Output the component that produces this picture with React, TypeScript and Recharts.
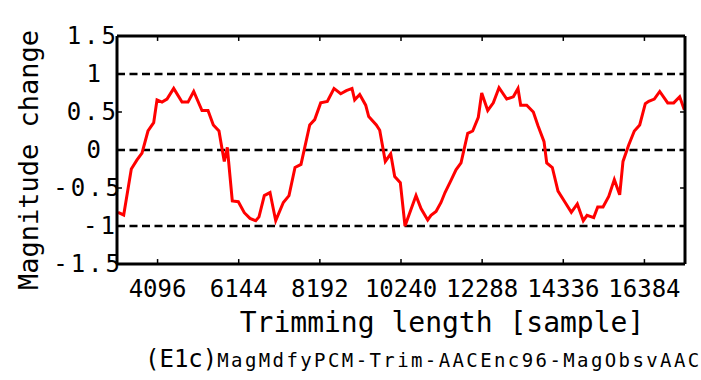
import { LineChart, Line, XAxis, YAxis, ReferenceLine, Label } from 'recharts';

const trimLength = [
  3097, 3241, 3433, 3577, 3703, 3854, 3998, 4082, 4208, 4334, 4503, 4713, 4864, 5008, 5217, 5369,
  5503, 5646, 5715, 5780, 5856, 5982, 6134, 6285, 6429, 6573, 6656, 6790, 6934, 7078, 7270, 7413,
  7565, 7716, 7936, 8062, 8213, 8380, 8549, 8718, 8860, 9003, 9071, 9198, 9349, 9425, 9617, 9703,
  9844, 9980, 10081, 10223, 10341, 10619, 10745, 10914, 10997, 11124, 11250, 11351, 11502, 11628,
  11755, 11924, 12050, 12191, 12277, 12429, 12570, 12714, 12908, 13075, 13193, 13261, 13413, 13580,
  13698, 13850, 13918, 14059, 14203, 14372, 14539, 14690, 14841, 14935, 15104, 15205, 15339, 15483,
  15624, 15760, 15843, 15987, 16129, 16265, 16406, 16492, 16633, 16770, 16972, 17123, 17274, 17390,
];

const magnitudeChange = [
  -0.82, -0.855, -0.25, -0.13, -0.04, 0.25, 0.36, 0.66, 0.63, 0.67, 0.81, 0.63, 0.63, 0.77, 0.52, 0.52,
  0.33, 0.25, 0.04, -0.15, 0.035, -0.67, -0.68, -0.825, -0.9, -0.93, -0.88, -0.6, -0.56, -0.93, -0.69, -0.6,
  -0.23, -0.19, 0.33, 0.4, 0.62, 0.64, 0.81, 0.74, 0.78, 0.81, 0.66, 0.73, 0.59, 0.44, 0.33, 0.26,
  -0.15, -0.05, -0.35, -0.43, -1.0, -0.6, -0.77, -0.92, -0.86, -0.81, -0.69, -0.56, -0.4, -0.26,
  -0.17, 0.22, 0.25, 0.43, 0.75, 0.52, 0.62, 0.82, 0.67, 0.7, 0.81, 0.59, 0.59, 0.5,
  0.32, 0.11, -0.17, -0.23, -0.54, -0.68, -0.82, -0.71, -0.93, -0.86, -0.89, -0.75, -0.75, -0.61,
  -0.39, -0.59, -0.15, 0.066, 0.25, 0.33, 0.61, 0.64, 0.67, 0.77, 0.62, 0.62, 0.7, 0.53,
];

const xTicks = [4096, 6144, 8192, 10240, 12288, 14336, 16384];
const yTicks = [-1.5, -1, -0.5, 0, 0.5, 1, 1.5];
const dashedLevels = [-1, 0, 1];
const X_MIN = 3072;
const X_MAX = 17408;
const Y_MIN = -1.5;
const Y_MAX = 1.5;

const data = trimLength.map((x, i) => ({ x, y: magnitudeChange[i] }));

const FONT = '"DejaVu Sans Mono", monospace';
const LEFT = 117;
const TOP = 36;
const RIGHT = 685;
const BOTTOM = 264;
// inward tick length in data units (about 5px)
const TICK_Y = 0.065;
const TICK_X = 125;

function LeftTick(props: any) {
  const { y, payload } = props;
  const v = payload.value as number;
  const isInt = Number.isInteger(v);
  const end = v < 0 ? (isInt ? 118 : 123) : isInt ? 104 : 119;
  return (
    <text x={end} y={y} textAnchor="end" dominantBaseline="central" fontFamily={FONT} fontSize={24} letterSpacing={3} fill="#000">
      {String(v)}
    </text>
  );
}

function BottomTick(props: any) {
  const { x, payload } = props;
  return (
    <text x={x} y={297} textAnchor="middle" fontFamily={FONT} fontSize={24} fill="#000">
      {payload.value}
    </text>
  );
}

const frame = [
  [{ x: X_MIN, y: Y_MIN }, { x: X_MAX, y: Y_MIN }],
  [{ x: X_MIN, y: Y_MAX }, { x: X_MAX, y: Y_MAX }],
  [{ x: X_MIN, y: Y_MIN }, { x: X_MIN, y: Y_MAX }],
  [{ x: X_MAX, y: Y_MIN }, { x: X_MAX, y: Y_MAX }],
];

export default function App() {
  return (
    <div style={{ position: 'absolute', left: 0, top: 0, width: 701, height: 380, background: '#fff' }}>
      <LineChart
        width={701}
        height={380}
        data={data}
        margin={{ top: TOP, right: 701 - RIGHT, bottom: 380 - BOTTOM - 30, left: 0 }}
      >
        <XAxis
          dataKey="x"
          type="number"
          domain={[X_MIN, X_MAX]}
          ticks={xTicks}
          height={30}
          tickLine={false}
          axisLine={false}
          tick={<BottomTick />}
          interval={0}
        >
          <Label
            content={() => (
              <text x={442} y={332} textAnchor="middle" fontFamily={FONT} fontSize={28} fill="#000">
                Trimming length [sample]
              </text>
            )}
          />
        </XAxis>
        <YAxis
          type="number"
          domain={[Y_MIN, Y_MAX]}
          ticks={yTicks}
          width={LEFT}
          tickLine={false}
          axisLine={false}
          tick={<LeftTick />}
          interval={0}
        >
          <Label
            content={() => (
              <text
                x={28}
                y={160}
                transform="rotate(-90 28 160)"
                textAnchor="middle"
                dominantBaseline="central"
                fontFamily={FONT}
                fontSize={27}
                fill="#000"
              >
                Magnitude change
              </text>
            )}
          />
        </YAxis>
        {dashedLevels.map((lv) => (
          <ReferenceLine key={lv} y={lv} stroke="#000" strokeWidth={2.5} strokeDasharray="8 4.5" />
        ))}
        <Line
          type="linear"
          dataKey="y"
          stroke="#ff0000"
          strokeWidth={3}
          dot={false}
          isAnimationActive={false}
        />
        {frame.map((seg, i) => (
          <ReferenceLine key={`f${i}`} segment={seg} stroke="#000" strokeWidth={3} ifOverflow="visible" />
        ))}
        {xTicks.map((t) => (
          <ReferenceLine key={`b${t}`} segment={[{ x: t, y: Y_MIN }, { x: t, y: Y_MIN + TICK_Y }]} stroke="#000" strokeWidth={1.5} ifOverflow="visible" />
        ))}
        {xTicks.map((t) => (
          <ReferenceLine key={`t${t}`} segment={[{ x: t, y: Y_MAX }, { x: t, y: Y_MAX - TICK_Y }]} stroke="#000" strokeWidth={1.5} ifOverflow="visible" />
        ))}
        {yTicks.map((t) => (
          <ReferenceLine key={`l${t}`} segment={[{ x: X_MIN, y: t }, { x: X_MIN + TICK_X, y: t }]} stroke="#000" strokeWidth={1.5} ifOverflow="visible" />
        ))}
        {yTicks.map((t) => (
          <ReferenceLine key={`r${t}`} segment={[{ x: X_MAX, y: t }, { x: X_MAX - TICK_X, y: t }]} stroke="#000" strokeWidth={1.5} ifOverflow="visible" />
        ))}
      </LineChart>
      <div
        style={{
          position: 'absolute',
          left: 145,
          top: 344,
          fontFamily: FONT,
          color: '#000',
          whiteSpace: 'nowrap',
          lineHeight: '30px',
        }}
      >
        <span style={{ fontSize: 24 }}>(E1c)</span>
        <span style={{ fontSize: 19, letterSpacing: 2.4 }}>MagMdfyPCM-Trim-AACEnc96-MagObsvAAC</span>
      </div>
    </div>
  );
}
